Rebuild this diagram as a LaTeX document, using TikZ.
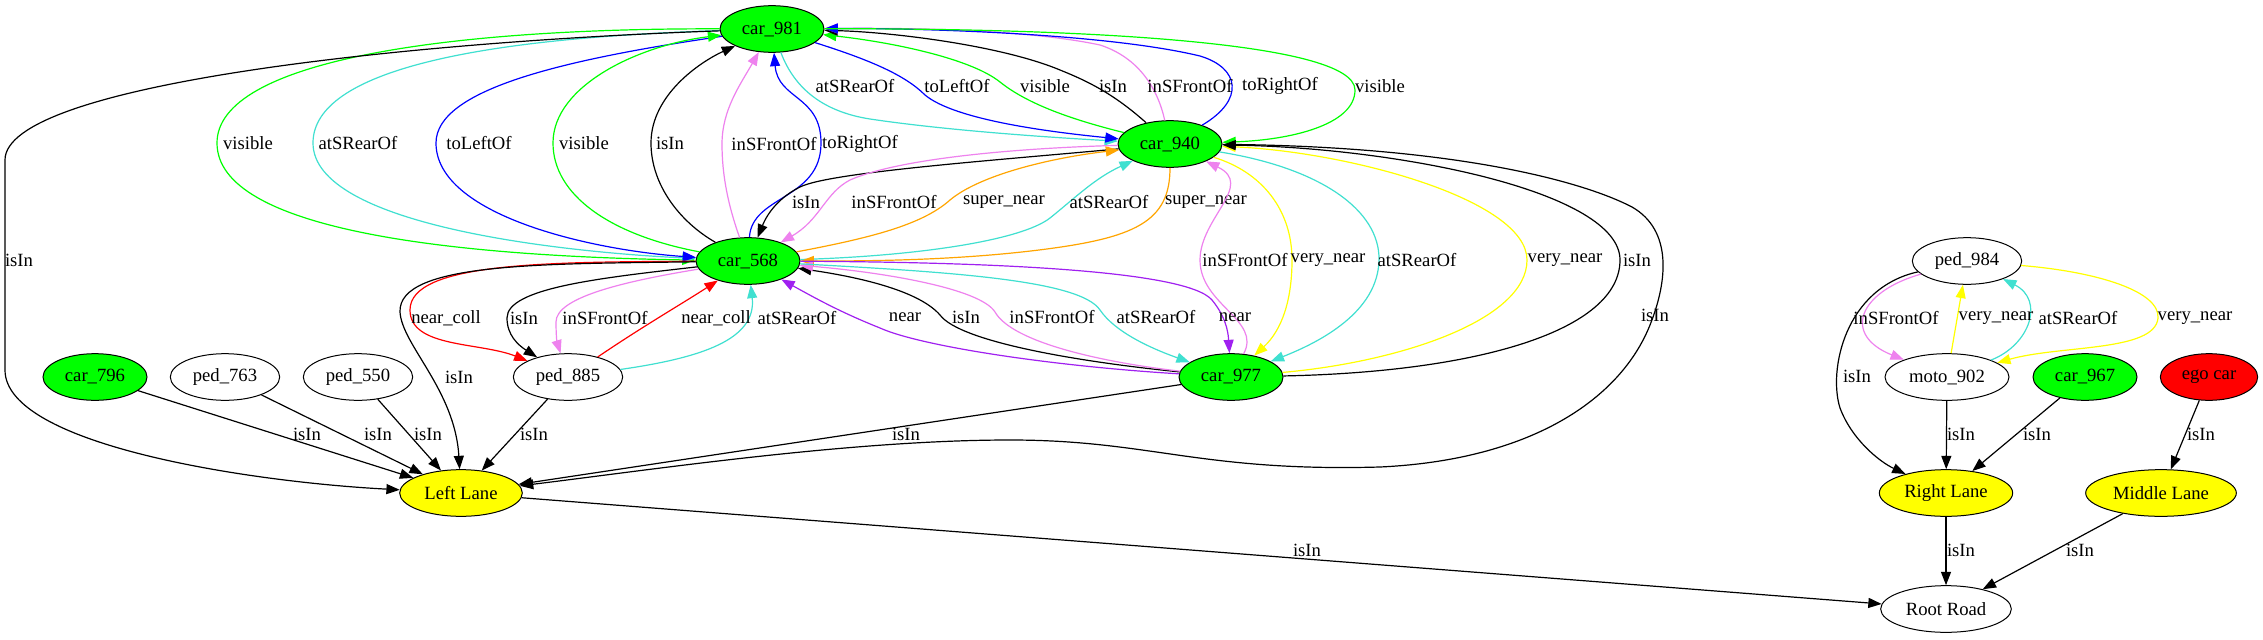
\documentclass[tikz,border=0pt]{standalone}
\usepackage{fontspec}
\setmainfont{Liberation Serif}
\usetikzlibrary{shapes.geometric,arrows.meta}
\definecolor{ggreen}{HTML}{00FF00}
\definecolor{gturq}{HTML}{40E0D0}
\definecolor{gviolet}{HTML}{EE82EE}
\definecolor{gpurple}{HTML}{A020F0}
\definecolor{gorange}{HTML}{FFA500}
\definecolor{gyellow}{HTML}{FFFF00}
\definecolor{gred}{HTML}{FF0000}
\definecolor{gblue}{HTML}{0000FF}
\begin{document}
\begin{tikzpicture}[x=0.75pt,y=-0.75pt,
  gnode/.style={ellipse,draw=black,line width=0.75pt,inner sep=0pt,minimum height=35pt,font=\fontsize{14}{16}\selectfont},
  carn/.style={gnode,fill=ggreen,minimum width=78pt},
  pedn/.style={gnode,fill=white,minimum width=82pt},
  lanen/.style={gnode,fill=gyellow},
  lbl/.style={font=\fontsize{14}{16}\selectfont,inner sep=0pt},
  rel/.style={line width=0.9pt,-{Triangle[length=10pt,width=7.5pt]}},
]
\useasboundingbox[fill=white] (0,0) rectangle (2263,639);

% nodes
\node[carn] (c981) at (772,29) {car\_981};
\node[carn] (c940) at (1170,144) {car\_940};
\node[carn] (c568) at (748,261) {car\_568};
\node[carn] (c977) at (1231,377) {car\_977};
\node[carn] (c796) at (95,377) {car\_796};
\node[pedn] (p763) at (225,377) {ped\_763};
\node[pedn] (p550) at (358,377) {ped\_550};
\node[pedn] (p885) at (568,377) {ped\_885};
\node[lanen,minimum width=92pt] (LL) at (461,493) {Left Lane};
\node[pedn] (p984) at (1967,261) {ped\_984};
\node[gnode,fill=white,minimum width=93pt] (m902) at (1947,377) {moto\_902};
\node[carn] (c967) at (2085,377) {car\_967};
\node[gnode,fill=gred,minimum width=73pt] (ego) at (2209,377) {ego car};
\node[lanen,minimum width=100pt] (RL) at (1946,493) {Right Lane};
\node[lanen,minimum width=113pt] (ML) at (2161,493) {Middle Lane};
\node[gnode,fill=white,minimum width=98pt] (RR) at (1946,609) {Root Road};

% car_981 <-> car_568
\draw[rel,ggreen] (c981) .. controls (450,28) and (217,60) .. (217,143) .. controls (217,230) and (450,256) .. (c568);
\draw[rel,gturq] (c981) .. controls (480,38) and (313,70) .. (313,143) .. controls (313,225) and (560,252) .. (c568);
\draw[rel,gblue] (c981) .. controls (560,60) and (436,90) .. (436,143) .. controls (436,215) and (590,250) .. (c568);
\draw[rel,ggreen] (c568) .. controls (610,235) and (553,195) .. (553,143) .. controls (553,85) and (640,45) .. (c981);
\draw[rel] (c568) .. controls (680,222) and (651,185) .. (651,143) .. controls (651,95) and (700,62) .. (c981);
\draw[rel,gviolet] (c568) .. controls (728,205) and (722,175) .. (722,144) .. controls (722,110) and (740,85) .. (c981);
\draw[rel,gblue] (c568) .. controls (752,195) and (821,200) .. (821,143) .. controls (821,95) and (778,100) .. (c981);
\node[lbl] (lA1) at (248,143) {visible};
\node[lbl] (lA2) at (358,143) {atSRearOf};
\node[lbl] (lA3) at (479,143) {toLeftOf};
\node[lbl] (lA4) at (584,143) {visible};
\node[lbl] (lA5) at (670,143) {isIn};
\node[lbl] (lA6) at (774,144) {inSFrontOf};
\node[lbl] (lA7) at (860,144) {toRightOf};

% car_981 <-> car_940
\draw[rel,gturq] (c981) .. controls (795,90) and (825,112) .. (870,119) .. controls (950,131) and (1060,138) .. (c940);
\draw[rel,gblue] (c981) .. controls (870,60) and (905,75) .. (925,95) .. controls (955,120) and (1050,132) .. (c940);
\draw[rel,ggreen] (c940) .. controls (1065,118) and (1025,102) .. (1000,82) .. controls (970,58) and (890,42) .. (c981);
\draw[rel] (c940) .. controls (1115,95) and (1090,82) .. (1060,70) .. controls (1000,45) and (890,32) .. (c981);
\draw[rel,gviolet] (c940) .. controls (1158,90) and (1140,58) .. (1100,45) .. controls (1020,28) and (890,28) .. (c981);
\draw[rel,gblue] (c940) .. controls (1245,100) and (1240,68) .. (1200,56) .. controls (1100,32) and (900,28) .. (c981);
\draw[rel,ggreen] (c981) .. controls (1060,28) and (1355,40) .. (1355,90) .. controls (1355,125) and (1290,140) .. (c940);
\node[lbl] (lB1) at (855,86) {atSRearOf};
\node[lbl] (lB2) at (957,86) {toLeftOf};
\node[lbl] (lB3) at (1045,86) {visible};
\node[lbl] (lB4) at (1113,86) {isIn};
\node[lbl] (lB5) at (1190,86) {inSFrontOf};
\node[lbl] (lB6) at (1280,86) {toRightOf};
\node[lbl] (lB7) at (1380,86) {visible};

% car_940 <-> car_568
\draw[rel] (c940) .. controls (1000,160) and (830,172) .. (800,187) .. controls (780,197) and (768,212) .. (c568);
\draw[rel,gviolet] (c940) .. controls (1020,148) and (900,158) .. (850,180) .. controls (825,193) and (820,220) .. (c568);
\draw[rel,gorange] (c568) .. controls (870,238) and (922,225) .. (950,200) .. controls (980,175) and (1050,158) .. (c940);
\draw[rel,gturq] (c568) .. controls (920,256) and (1022,240) .. (1050,218) .. controls (1075,198) and (1095,178) .. (c940);
\draw[rel,gorange] (c940) .. controls (1170,222) and (1135,238) .. (1039,250) .. controls (950,261) and (860,261) .. (c568);
\node[lbl] (lC1) at (806,202) {isIn};
\node[lbl] (lC2) at (894,202) {inSFrontOf};
\node[lbl] (lC3) at (1004,202) {super\_near};
\node[lbl] (lC4) at (1109,202) {atSRearOf};
\node[lbl] (lC5) at (1206,202) {super\_near};

% car_940 <-> car_977
\draw[rel,gviolet] (c977) .. controls (1262,320) and (1200,305) .. (1200,260) .. controls (1200,218) and (1255,185) .. (c940);
\draw[rel,gyellow] (c940) .. controls (1262,172) and (1292,210) .. (1292,260) .. controls (1292,300) and (1282,330) .. (c977);
\draw[rel,gturq] (c940) .. controls (1320,168) and (1380,210) .. (1379,260) .. controls (1378,312) and (1320,342) .. (c977);
\draw[rel,gyellow] (c977) .. controls (1400,362) and (1527,320) .. (1527,260) .. controls (1527,200) and (1350,152) .. (c940);
\draw[rel] (c977) .. controls (1480,372) and (1620,330) .. (1620,260) .. controls (1620,192) and (1400,148) .. (c940);
\draw[rel] (c940) .. controls (1450,146) and (1580,180) .. (1632,207) .. controls (1672,230) and (1668,280) .. (1650,325) .. controls (1620,400) and (1530,460) .. (1380,467) .. controls (1200,472) and (1150,440) .. (1010,440) .. controls (850,440) and (650,470) .. (LL);
\node[lbl] (lD1) at (1245,260) {inSFrontOf};
\node[lbl] (lD2) at (1328,260) {very\_near};
\node[lbl] (lD3) at (1417,260) {atSRearOf};
\node[lbl] (lD4) at (1565,260) {very\_near};
\node[lbl] (lD5) at (1637,260) {isIn};
\node[lbl] (lD6) at (1655,315) {isIn};

% car_568 <-> car_977
\draw[rel,gpurple] (c977) .. controls (1050,366) and (920,346) .. (880,328) .. controls (840,312) and (815,298) .. (c568);
\draw[rel] (c977) .. controls (1080,362) and (960,342) .. (940,315) .. controls (920,292) and (865,278) .. (c568);
\draw[rel,gviolet] (c977) .. controls (1100,362) and (1012,342) .. (995,312) .. controls (980,288) and (880,272) .. (c568);
\draw[rel,gturq] (c568) .. controls (950,272) and (1080,280) .. (1100,310) .. controls (1115,332) and (1150,348) .. (c977);
\draw[rel,gpurple] (c568) .. controls (960,262) and (1185,268) .. (1212,300) .. controls (1225,316) and (1228,330) .. (c977);
\node[lbl] (lE1) at (905,317) {near};
\node[lbl] (lE2) at (966,317) {isIn};
\node[lbl] (lE3) at (1052,317) {inSFrontOf};
\node[lbl] (lE4) at (1156,317) {atSRearOf};
\node[lbl] (lE5) at (1235,317) {near};

% car_568 <-> ped_885, Left Lane
\draw[rel,gred] (c568) .. controls (550,262) and (410,262) .. (410,310) .. controls (410,348) and (480,342) .. (p885);
\draw[rel] (c568) .. controls (545,264) and (398,262) .. (400,312) .. controls (402,345) and (455,390) .. (LL);
\draw[rel] (c568) .. controls (600,278) and (507,288) .. (507,318) .. controls (507,335) and (518,345) .. (p885);
\draw[rel,gviolet] (c568) .. controls (620,282) and (556,298) .. (556,322) .. controls (556,335) and (557,342) .. (p885);
\draw[rel,gred] (p885) .. controls (645,325) and (680,305) .. (c568);
\draw[rel,gturq] (p885) .. controls (700,358) and (757,340) .. (c568);
\node[lbl] (lF1) at (446,318) {near\_coll};
\node[lbl] (lF2) at (459,377) {isIn};
\node[lbl] (lF3) at (524,318) {isIn};
\node[lbl] (lF4) at (605,318) {inSFrontOf};
\node[lbl] (lF5) at (716,318) {near\_coll};
\node[lbl] (lF6) at (797,318) {atSRearOf};

% into Left Lane
\draw[rel] (c796) -- (LL);
\draw[rel] (p763) -- (LL);
\draw[rel] (p550) -- (LL);
\draw[rel] (p885) -- (LL);
\draw[rel] (c977) -- (LL);
\draw[rel] (c981) .. controls (400,42) and (5,85) .. (5,160) -- (5,370) .. controls (5,445) and (250,482) .. (LL);
\draw[rel] (LL) -- (RR);
\node[lbl] (lG1) at (307,434) {isIn};
\node[lbl] (lG2) at (378,434) {isIn};
\node[lbl] (lG3) at (428,434) {isIn};
\node[lbl] (lG4) at (534,434) {isIn};
\node[lbl] (lG5) at (906,434) {isIn};
\node[lbl] (lG6) at (19,260) {isIn};
\node[lbl] (lH) at (1307,550) {isIn};

% right cluster
\draw[rel] (p984) .. controls (1845,288) and (1828,370) .. (1840,408) .. controls (1852,440) and (1880,462) .. (RL);
\draw[rel,gviolet] (p984) .. controls (1858,292) and (1842,335) .. (m902);
\draw[rel,gyellow] (m902) -- (p984);
\draw[rel,gturq] (m902) .. controls (2030,345) and (2045,300) .. (p984);
\draw[rel,gyellow] (p984) .. controls (2100,272) and (2160,292) .. (2158,318) .. controls (2155,352) and (2060,345) .. (m902);
\draw[rel] (m902) -- (RL);
\draw[rel] (c967) -- (RL);
\draw[rel] (ego) -- (ML);
\draw[rel] (RL) -- (RR);
\draw[rel] (ML) -- (RR);
\node[lbl] (lI1) at (1857,376) {isIn};
\node[lbl] (lI2) at (1896,318) {inSFrontOf};
\node[lbl] (lI3) at (1996,318) {very\_near};
\node[lbl] (lI4) at (2078,318) {atSRearOf};
\node[lbl] (lI5) at (2195,318) {very\_near};
\node[lbl] (lI6) at (1961,434) {isIn};
\node[lbl] (lI7) at (2037,434) {isIn};
\node[lbl] (lI8) at (2201,434) {isIn};
\node[lbl] (lI9) at (1961,550) {isIn};
\node[lbl] (lI10) at (2080,550) {isIn};
\end{tikzpicture}
\end{document}
